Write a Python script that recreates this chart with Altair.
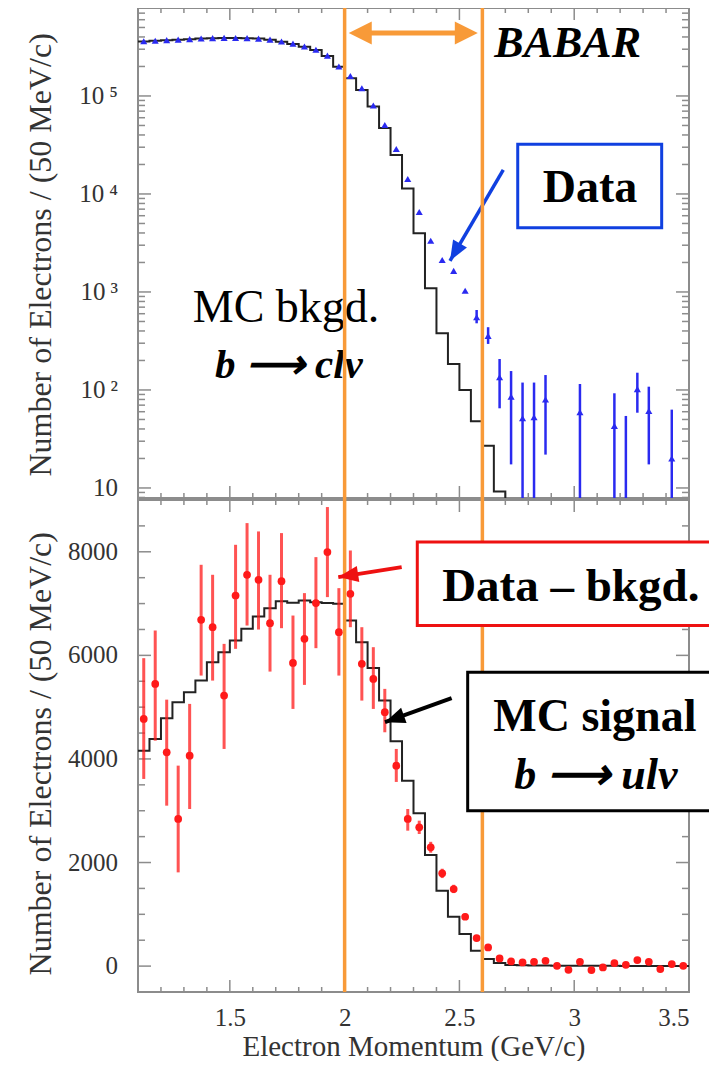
import altair as alt
import pandas as pd
import numpy as np

# ---------------- data ----------------
X_MIN, X_MAX = 1.1, 3.5
BIN = 0.05
CUTS = [2.0, 2.6]

# top panel: MC background (b -> c l nu), one value per 50 MeV bin starting at 1.1
top_mc = [3.60e5, 3.65e5, 3.70e5, 3.75e5, 3.80e5, 3.85e5, 3.88e5, 3.90e5,
          3.90e5, 3.88e5, 3.85e5, 3.75e5, 3.58e5, 3.40e5, 3.18e5, 2.94e5,
          2.56e5, 1.99e5, 1.52e5, 1.15e5, 7.8e4, 4.7e4, 2.5e4, 1.14e4,
          3.97e3, 1.09e3, 378, 184, 100, 48, 27, 9.2, 2.0]
# top panel: data (None = no visible point)
top_data = [3.62e5, 3.66e5, 3.71e5, 3.76e5, 3.80e5, 3.86e5, 3.89e5, 3.91e5,
            3.90e5, 3.89e5, 3.85e5, 3.76e5, 3.60e5, 3.42e5, 3.20e5, 2.96e5,
            2.58e5, 2.00e5, 1.60e5, 1.20e5, 8.0e4, 5.06e4, 2.88e4, 1.42e4,
            6.55e3, 3.33e3, 2.12e3, 1.64e3, 1.03e3, 552, 356, 135,
            85.5, 51.4, 52.6, 80, None, None, 59.3, None,
            None, 43, None, 102, 61, None, 20, None]
top_err_bin = [29, 30, 31, 32, 33, 34, 35, 38, 41, 42, 43, 44, 46]
top_err_lo = [479, 295, 65, 17.4, 1, 1, 21.9, 1, 1, 1, 58.6, 17.4, 1]
top_err_hi = [655, 437, 207, 156, 119, 119, 142, 115, 92.5, 54.3, 150, 108, 63]

# bottom panel: MC signal (b -> u l nu)
bot_mc = [4160, 4386, 4786, 5095, 5289, 5513, 5868, 6062, 6286, 6512, 6750, 6912,
          7047, 7014, 7059, 7028, 7009, 6995, 6673, 6255, 5758, 5127, 4342, 3581,
          2950, 2145, 1455, 953, 618, 296, 135, 58, 20, 15, 12, 10,
          8, 8, 6, 6, 5, 5, 4, 4, 3, 3, 2, 2]
# bottom panel: data - background
bot_data = [4773, 5449, 4129, 2841, 4064, 6686, 6544, 5223, 7156, 7556, 7459, 6622,
            7433, 5855, 6319, 7009, 7994, 6448, 7188, 5836, 5546, 4902, 3871, 2841,
            2680, 2294, 1791, 1488, 953, 541, 361, 148, 90, 71, 84, 103,
            6, -71, 84, -77, -26, 58, 26, 116, 84, -58, 39, 6]
bot_err_lo = [3614, 4353, 3098, 1810, 3034, 5610, 5513, 4193, 6126, 6576, 6499, 5687,
              6525, 4966, 5430, 6139, 7125, 5610, 6544, 5127, 4966, 4515, 3556, 2615,
              2551, 2190, 1700, 1410, 890, 490, 320, 110, 55, 40, 55, 70,
              -25, -100, 55, -105, -55, 30, 0, 90, 58, -85, 12, -20]
bot_err_hi = [5946, 6480, 5145, 3871, 5063, 7749, 7556, 6222, 8135, 8554, 8393, 7556,
              8361, 6769, 7202, 7897, 8864, 7298, 8025, 6544, 6158, 5353, 4193, 3034,
              2808, 2400, 1880, 1570, 1015, 590, 400, 185, 125, 100, 115, 135,
              37, -40, 113, -50, 3, 86, 52, 142, 110, -30, 66, 32]

# axis tick values and labels
X_MAJOR = [1.5, 2.0, 2.5, 3.0, 3.5]
X_MINOR = [1.2, 1.3, 1.4, 1.6, 1.7, 1.8, 1.9, 2.1, 2.2, 2.3, 2.4,
           2.6, 2.7, 2.8, 2.9, 3.1, 3.2, 3.3, 3.4]
TOP_Y_MAJOR = [10, 100, 1000, 10000, 100000]
TOP_Y_LABELS = ["10", "10\u2009\u00b2", "10\u2009\u00b3", "10\u2009\u2074", "10\u2009\u2075"]
TOP_Y_MINOR = [8, 9] + [k * 10 ** e for e in range(1, 5) for k in range(2, 10)] + \
              [2e5, 3e5, 4e5, 5e5, 6e5, 7e5]
BOT_Y_MAJOR = [0, 2000, 4000, 6000, 8000]
BOT_Y_LABELS = ["0", "2000", "4000", "6000", "8000"]
BOT_Y_MINOR = [500, 1000, 1500, 2500, 3000, 3500, 4500, 5000, 5500,
               6500, 7000, 7500, 8500]

# ---------------- layout / style ----------------
PLOT_W = 551
TOP_H = 490
GAP = 2
BOT_H = 492
TOTAL_H = TOP_H + GAP + BOT_H
TOP_DOMAIN = [7.9, 790000]
BOT_DOMAIN = [-500, 9000]
X_FAR = 3.75            # boxes run off the right edge of the page

ORANGE = "#F89A38"
BLUE = "#2a2af0"
BLUE_BOX = "#1040E0"
RED = "#FF1A1A"
RED_BOX = "#EE1111"
FRAME = "#8c8c8c"
TXT = "#333333"
FONT = "Liberation Serif"
ARROW = "\u27f6"

PXX = PLOT_W / (X_MAX - X_MIN)
PX_DEC = TOP_H / np.log10(TOP_DOMAIN[1] / TOP_DOMAIN[0])
PX_BOT = BOT_H / (BOT_DOMAIN[1] - BOT_DOMAIN[0])

xs = alt.Scale(domain=[X_MIN, X_MAX], nice=False, zero=False)
ys_top = alt.Scale(type="log", domain=TOP_DOMAIN, nice=False, clamp=True, range=[TOP_H, 0])
ys_bot = alt.Scale(domain=BOT_DOMAIN, nice=False, zero=False, clamp=True,
                   range=[TOTAL_H, TOP_H + GAP])

YTITLE = "Number of Electrons / (50 MeV/c)"

X = alt.X("x:Q", scale=xs,
          axis=alt.Axis(values=X_MAJOR, format="~g", ticks=False, tickSize=0, domain=False,
                        grid=False, labelFont=FONT, labelFontSize=25, labelColor=TXT,
                        labelPadding=13, title="Electron Momentum (GeV/c)", titleFont=FONT,
                        titleFontSize=29, titleFontWeight="normal", titleColor=TXT,
                        titlePadding=2))
Y_TOP = alt.Y("y:Q", scale=ys_top, axis=None)
Y_BOT = alt.Y("y:Q", scale=ys_bot, axis=None)


def centers(idx):
    return [X_MIN + BIN * (i + 0.5) for i in idx]


def step_df(vals, close=True):
    n = len(vals) + (1 if close else 0)
    edges = [X_MIN + BIN * i for i in range(n)]
    ys = list(vals) + ([vals[-1]] if close else [])
    return pd.DataFrame({"x": edges, "y": ys})


def tick_layers(Y, df_h, df_v):
    th = alt.Chart(df_h).mark_rule(color=FRAME, strokeWidth=1.5).encode(x=X, x2="x2:Q", y=Y)
    tv = alt.Chart(df_v).mark_rule(color=FRAME, strokeWidth=1.5).encode(x=X, y=Y, y2="y2:Q")
    return th, tv


def frame(Y, dom):
    return alt.Chart(pd.DataFrame({"x": [X_MIN], "x2": [X_MAX], "y": [dom[0]], "y2": [dom[1]]})).mark_rect(
        fillOpacity=0, stroke=FRAME, strokeWidth=2).encode(x=X, x2="x2:Q", y=Y, y2="y2:Q")


def ylabels(Y, vals, labels):
    return alt.Chart(pd.DataFrame({"x": [X_MIN] * len(vals), "y": vals, "t": labels})).mark_text(
        font=FONT, fontSize=25, color=TXT, align="right", baseline="middle", dx=-20).encode(
        x=X, y=Y, text="t:N")


def ytitle(Y, yv):
    return alt.Chart(pd.DataFrame({"x": [X_MIN - 97 / PXX], "y": [yv], "t": [YTITLE]})).mark_text(
        font=FONT, fontSize=32, color=TXT, align="center", baseline="middle", angle=270).encode(
        x=X, y=Y, text="t:N")


def text(Y, xv, yv, s, size, bold=False, italic=False, align="center"):
    kw = dict(font=FONT, fontSize=size, align=align, baseline="alphabetic", color="black")
    if bold:
        kw["fontWeight"] = "bold"
    if italic:
        kw["fontStyle"] = "italic"
    return alt.Chart(pd.DataFrame({"x": [xv], "y": [yv], "t": [s]})).mark_text(**kw).encode(
        x=X, y=Y, text="t:N")


def arrow(Y, x0, y0, x1, y1, color, width, angle, size, path):
    shaft = alt.Chart(pd.DataFrame({"x": [x0], "x2": [x1], "y": [y0], "y2": [y1]})).mark_rule(
        color=color, strokeWidth=width).encode(x=X, x2="x2:Q", y=Y, y2="y2:Q")
    head = alt.Chart(pd.DataFrame({"x": [x1], "y": [y1]})).mark_point(
        shape=path, filled=True, color=color, opacity=1, size=size, angle=angle,
        strokeWidth=0).encode(x=X, y=Y)
    return shaft, head


def open_box(Y, x0, y0, y1, color):
    """White box running off the right edge of the page."""
    return alt.Chart(pd.DataFrame({"x": [x0], "x2": [X_FAR], "y": [y0], "y2": [y1]})).mark_rect(
        fill="white", stroke=color, strokeWidth=3).encode(x=X, x2="x2:Q", y=Y, y2="y2:Q")


HEAD = "M0,0L-2,-0.8L-2,0.8Z"
HEAD_WIDE = "M0,0L-2,-1L-2,1Z"

# ---------------- top panel ----------------
hrows, vrows = [], []
for v in TOP_Y_MAJOR + TOP_Y_MINOR:
    ln = 13 if v in TOP_Y_MAJOR else 7
    hrows.append({"x": X_MIN, "x2": X_MIN + ln / PXX, "y": v})
    hrows.append({"x": X_MAX - ln / PXX, "x2": X_MAX, "y": v})
for xv in X_MAJOR[:-1] + X_MINOR:
    ln = 12 if xv in X_MAJOR else 5
    f = 10 ** (ln / PX_DEC)
    vrows.append({"x": xv, "y": TOP_DOMAIN[0], "y2": TOP_DOMAIN[0] * f})
    vrows.append({"x": xv, "y": TOP_DOMAIN[1] / f, "y2": TOP_DOMAIN[1]})
th_t, tv_t = tick_layers(Y_TOP, pd.DataFrame(hrows), pd.DataFrame(vrows))

mc_top = alt.Chart(step_df(top_mc, close=False)).mark_line(
    interpolate="step-after", color="#222222", strokeWidth=2).encode(x=X, y=Y_TOP)

td = pd.DataFrame({"x": centers(range(len(top_data))), "y": top_data}).dropna()
pts_top = alt.Chart(td).mark_point(shape="triangle-up", filled=True, color=BLUE, opacity=1,
                                   size=50).encode(x=X, y=Y_TOP)
te = pd.DataFrame({"x": centers(top_err_bin), "y": top_err_lo, "y2": top_err_hi})
err_top = alt.Chart(te).mark_rule(color=BLUE, strokeWidth=2.5).encode(x=X, y=Y_TOP, y2="y2:Q")

dbl_shaft = alt.Chart(pd.DataFrame({"x": [2.05], "x2": [2.55], "y": [4.4e5]})).mark_rule(
    color=ORANGE, strokeWidth=5).encode(x=X, x2="x2:Q", y=Y_TOP)
dbl_head_r = alt.Chart(pd.DataFrame({"x": [2.58], "y": [4.4e5]})).mark_point(
    shape=HEAD_WIDE, filled=True, color=ORANGE, opacity=1, size=529, strokeWidth=0).encode(
    x=X, y=Y_TOP)
dbl_head_l = alt.Chart(pd.DataFrame({"x": [2.018], "y": [4.4e5]})).mark_point(
    shape=HEAD_WIDE, filled=True, color=ORANGE, opacity=1, size=529, angle=180,
    strokeWidth=0).encode(x=X, y=Y_TOP)

babar = text(Y_TOP, 2.652, 2.52e5, "BABAR", 44, bold=True, italic=True, align="left")
data_box = alt.Chart(pd.DataFrame({"x": [2.754], "x2": [3.381], "y": [3.21e4], "y2": [4.53e3]})).mark_rect(
    fill="white", stroke=BLUE_BOX, strokeWidth=3).encode(x=X, x2="x2:Q", y=Y_TOP, y2="y2:Q")
data_txt = text(Y_TOP, 3.069, 8.22e3, "Data", 46, bold=True)
bl_shaft, bl_head = arrow(Y_TOP, 2.691, 1.76e4, 2.459, 2.08e3, BLUE_BOX, 3.5, 120, 400, HEAD)
mcb1 = text(Y_TOP, 1.745, 498, "MC bkgd.", 46)
mcb2 = text(Y_TOP, 1.757, 132.5, "b " + ARROW + " cl\u03bd", 41, bold=True, italic=True)

top = alt.layer(frame(Y_TOP, TOP_DOMAIN), th_t, tv_t, mc_top, err_top, pts_top,
                dbl_shaft, dbl_head_r, dbl_head_l, babar, data_box, data_txt, bl_shaft, bl_head,
                mcb1, mcb2, ylabels(Y_TOP, TOP_Y_MAJOR, TOP_Y_LABELS), ytitle(Y_TOP, 2390))

# ---------------- bottom panel ----------------
hrows, vrows = [], []
for v in BOT_Y_MAJOR + BOT_Y_MINOR:
    ln = 13 if v in BOT_Y_MAJOR else 7
    hrows.append({"x": X_MIN, "x2": X_MIN + ln / PXX, "y": v})
    hrows.append({"x": X_MAX - ln / PXX, "x2": X_MAX, "y": v})
for xv in X_MAJOR[:-1] + X_MINOR:
    ln = 12 if xv in X_MAJOR else 5
    vrows.append({"x": xv, "y": BOT_DOMAIN[0], "y2": BOT_DOMAIN[0] + ln / PX_BOT})
    vrows.append({"x": xv, "y": BOT_DOMAIN[1] - ln / PX_BOT, "y2": BOT_DOMAIN[1]})
th_b, tv_b = tick_layers(Y_BOT, pd.DataFrame(hrows), pd.DataFrame(vrows))

mc_bot = alt.Chart(step_df(bot_mc)).mark_line(
    interpolate="step-after", color="#222222", strokeWidth=2).encode(x=X, y=Y_BOT)
be = pd.DataFrame({"x": centers(range(len(bot_data))), "y": bot_err_lo, "y2": bot_err_hi})
err_bot = alt.Chart(be).mark_rule(color=RED, strokeWidth=3, opacity=0.75).encode(
    x=X, y=Y_BOT, y2="y2:Q")
bd = pd.DataFrame({"x": centers(range(len(bot_data))), "y": bot_data})
pts_bot = alt.Chart(bd).mark_point(shape="circle", filled=True, color=RED, opacity=1,
                                   size=60).encode(x=X, y=Y_BOT)

# orange cut lines, spanning both panels
cuts = alt.Chart(pd.DataFrame({"x": CUTS})).mark_rule(color=ORANGE, strokeWidth=3.5).encode(x=X)

red_box = open_box(Y_BOT, 2.3165, 8187, 6576, RED_BOX)
red_txt = text(Y_BOT, 2.985, 7059, "Data \u2013 bkgd.", 47, bold=True)
rd_shaft, rd_head = arrow(Y_BOT, 2.2485, 7704, 1.9724, 7511, RED_BOX, 4, 171, 400, HEAD)

blk_box = open_box(Y_BOT, 2.536, 5675, 3001, "black")
sig1 = text(Y_BOT, 3.090, 4547, "MC signal", 46, bold=True)
sig2 = text(Y_BOT, 3.094, 3420, "b " + ARROW + " ul\u03bd", 44, bold=True, italic=True)
bk_shaft, bk_head = arrow(Y_BOT, 2.466, 5173, 2.176, 4709, "black", 4, 160, 400, HEAD)

bot = alt.layer(frame(Y_BOT, BOT_DOMAIN), th_b, tv_b, mc_bot, err_bot, pts_bot, cuts,
                red_box, red_txt, rd_shaft, rd_head, blk_box, sig1, sig2, bk_shaft, bk_head,
                ylabels(Y_BOT, BOT_Y_MAJOR, BOT_Y_LABELS), ytitle(Y_BOT, 4100))

chart = alt.layer(top, bot).resolve_scale(y="independent").properties(
    width=PLOT_W, height=TOTAL_H,
    autosize=alt.AutoSizeParams(type="none"),
    padding={"left": 130, "top": 0, "right": 20, "bottom": 69},
    background="white",
).configure_view(stroke=None)

chart.save("out.html", embed_options={"renderer": "svg", "actions": False})
